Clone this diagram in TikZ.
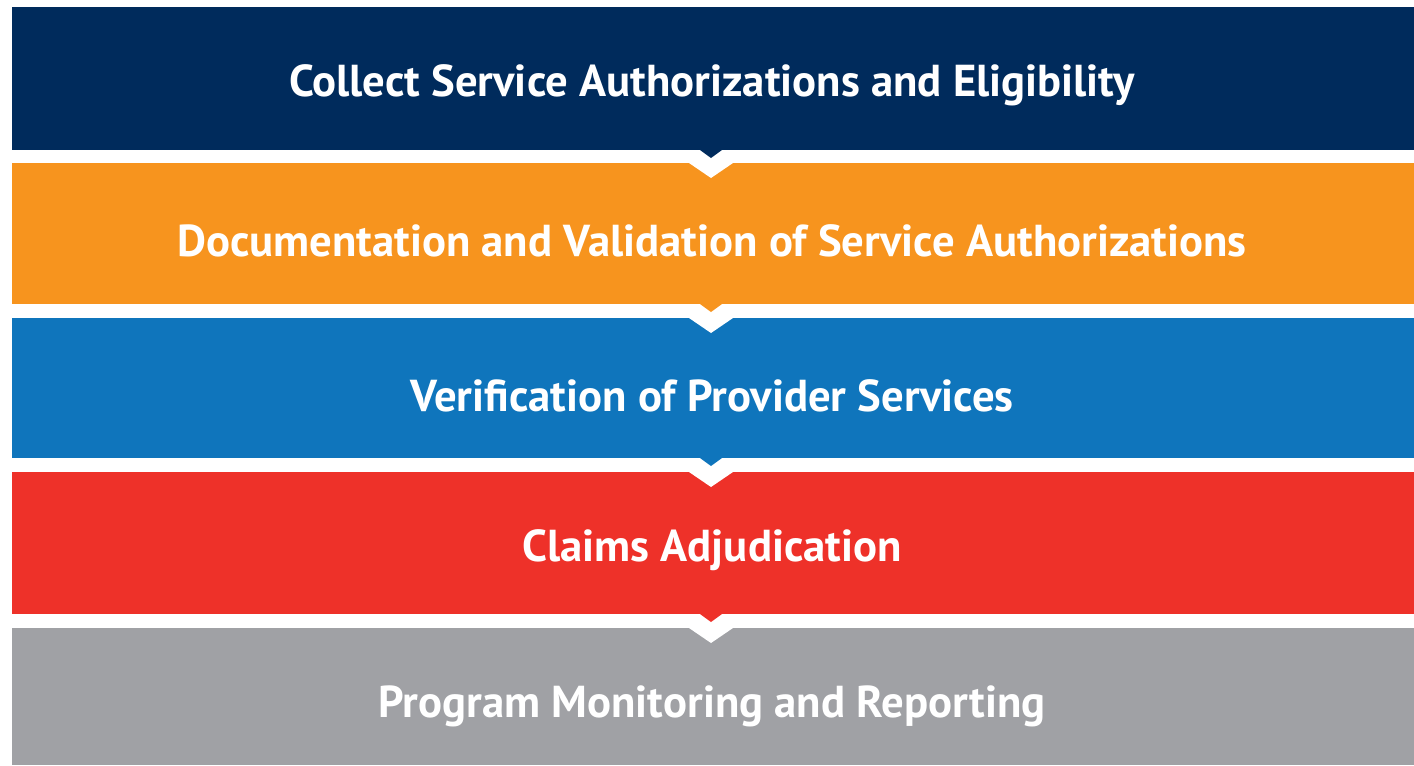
\documentclass[tikz,border=0pt]{standalone}
\usepackage{fontspec}
\setmainfont{PT Sans}
\usetikzlibrary{positioning}

\definecolor{navy}{HTML}{002B5C}
\definecolor{orng}{HTML}{F7941E}
\definecolor{azure}{HTML}{0F75BC}
\definecolor{crimson}{HTML}{EE3129}
\definecolor{slate}{HTML}{A0A1A5}

\begin{document}
\begin{tikzpicture}[
  x=0.025cm, y=-0.025cm,
  lbl/.style={text=white, font=\fontsize{31.8}{36}\selectfont\bfseries}
]
  \useasboundingbox (0,0) rectangle (1414,765);

  % bands with their titles
  \foreach \i/\t/\b/\c/\txt in {
      1/7/150/navy/{Collect Service Authorizations and Eligibility},
      2/163/304/orng/{Documentation and Validation of Service Authorizations},
      3/318/458/azure/{Verification of Provider Services},
      4/472/614/crimson/{Claims Adjudication},
      5/628/765/slate/{Program Monitoring and Reporting}} {
    \fill[\c] (12,\t) rectangle (1414,\b);
    \node[lbl] (stage\i) at (712,\t+78) {\txt};
  }

  % chevrons between bands
  \foreach \b/\n/\c in {150/163/navy, 304/318/orng, 458/472/azure, 614/628/crimson} {
    \fill[\c] (700,\b) -- (711,\b+8) -- (722,\b) -- cycle;
    \fill[white] (689,\n) -- (711,\n+15) -- (733,\n) -- cycle;
  }
\end{tikzpicture}
\end{document}
